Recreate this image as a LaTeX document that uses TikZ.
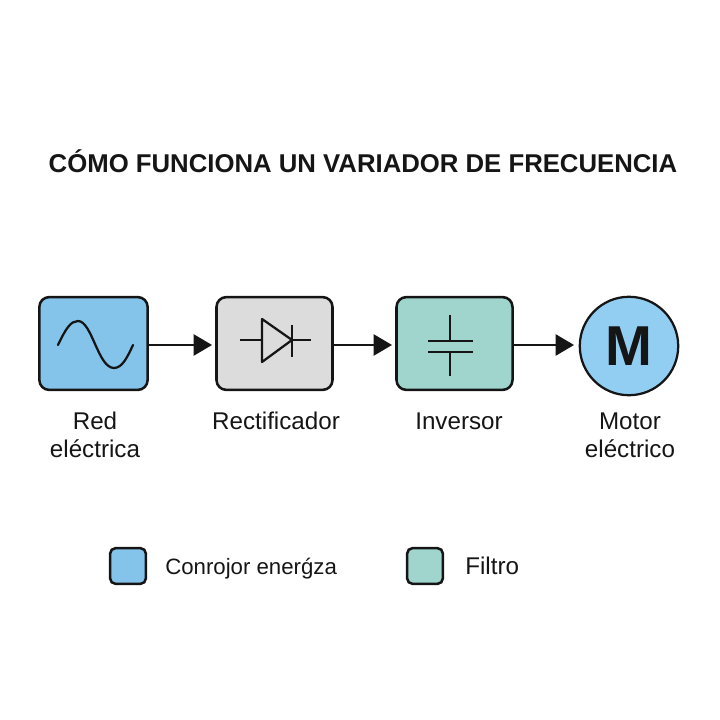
\documentclass[tikz,border=0pt]{standalone}
\usepackage{fontspec}
\usepackage{xcolor}
\usetikzlibrary{arrows.meta}
\setmainfont{Liberation Sans}
\definecolor{redblue}{HTML}{85C4EA}
\definecolor{rectgray}{HTML}{DCDCDC}
\definecolor{invgreen}{HTML}{9FD5CC}
\definecolor{motorblue}{HTML}{92CEF2}
\definecolor{inkblack}{HTML}{151515}
\tikzset{
  block/.style={draw=inkblack,line width=1.8pt,rounded corners=7pt,inner sep=0pt,outer sep=0pt,minimum height=66pt},
  swatch/.style={draw=inkblack,line width=1.8pt,rounded corners=4pt,inner sep=0pt,outer sep=0pt,minimum size=25.5pt},
  tag/.style={text=inkblack,font=\fontsize{17.2}{19.8}\selectfont,align=center,inner sep=0pt,anchor=base},
  glyph/.style={inkblack,line width=1.6pt},
  link/.style={-{Triangle[length=13pt,width=15pt]},inkblack,line width=1.4pt}
}
\begin{document}
\begin{tikzpicture}[x=0.025cm,y=-0.025cm]
\useasboundingbox (0,0) rectangle (720,720);
\node[text=inkblack,inner sep=0pt,anchor=base,font=\fontsize{18.3}{22}\selectfont\bfseries] (title) at (363,173) {CÓMO FUNCIONA UN VARIADOR DE FRECUENCIA};
\node[block,fill=redblue,minimum width=77pt] (red) at (93.5,343.5) {};
\node[block,fill=rectgray,minimum width=82.5pt] (rect) at (274.5,343.5) {};
\node[block,fill=invgreen,minimum width=82.5pt] (inv) at (454.5,343.5) {};
\node[circle,draw=inkblack,fill=motorblue,line width=1.6pt,inner sep=0pt,outer sep=0pt,minimum size=70pt,text=inkblack,font=\fontsize{40}{44}\selectfont\bfseries] (motor) at (629,346) {M};
\coordinate (rectin) at (212,345);
\coordinate (invin) at (392,345);
\coordinate (motorin) at (574,345);
\draw[link] (red.east |- rectin)--(rectin);
\draw[link] (rect.east |- invin)--(invin);
\draw[link] (inv.east |- motorin)--(motorin);
\draw[glyph,line cap=round] (58,345) .. controls (66,328) and (71,321) .. (78,321) .. controls (92,321) and (98,368) .. (114,368) .. controls (122,368) and (127,358) .. (133,345);
\draw[glyph,line join=round] (262,319)--(292,340)--(262,362)--cycle;
\draw[glyph] (240,340)--(262,340);
\draw[glyph] (292,340)--(311,340);
\draw[glyph] (292,325)--(292,357);
\draw[glyph] (428,341)--(473,341);
\draw[glyph] (428,352)--(473,352);
\draw[glyph] (450,315)--(450,341);
\draw[glyph] (450,352)--(450,376);
\node[tag] (redlabel) at (95,457) {Red\\eléctrica};
\node[tag] (rectlabel) at (276,429) {Rectificador};
\node[tag] (invlabel) at (459,429) {Inversor};
\node[tag] (motorlabel) at (630,457) {Motor\\eléctrico};
\node[swatch,fill=redblue] (powerkey) at (128,566) {};
\node[swatch,fill=invgreen] (filterkey) at (425,566) {};
\node[tag,anchor=base west,font=\fontsize{15.8}{20}\selectfont] (powerlabel) at (165,574) {Conrojor enerǵza};
\node[tag,anchor=base west] (filterlabel) at (465,574) {Filtro};
\end{tikzpicture}
\end{document}
